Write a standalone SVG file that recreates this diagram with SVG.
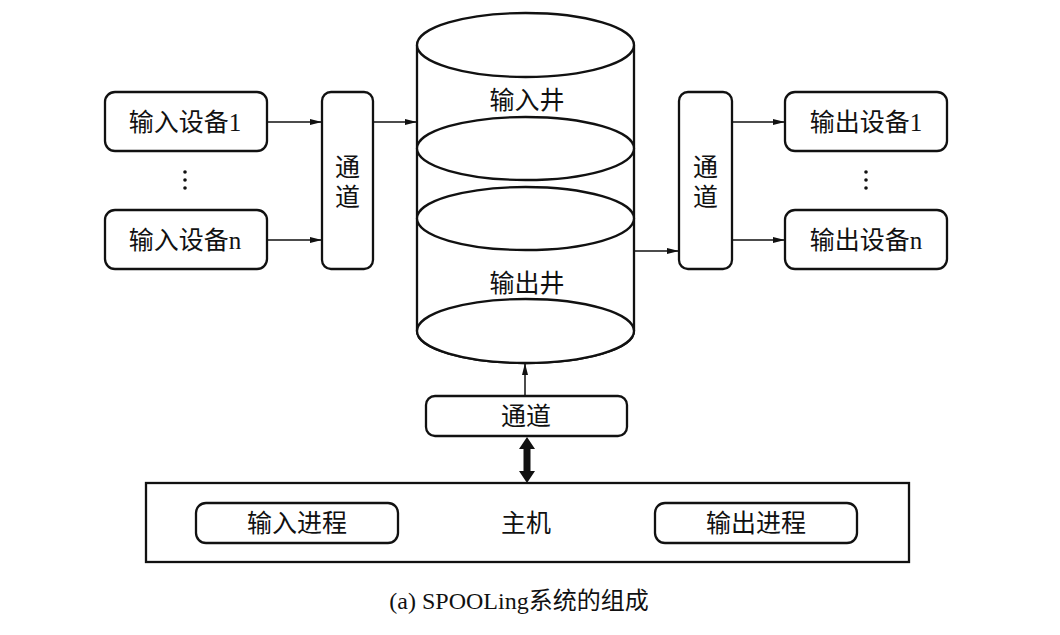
<svg xmlns="http://www.w3.org/2000/svg" width="1060" height="635" viewBox="0 0 1060 635">
<defs>
<style>
.box{fill:#fff;stroke:#111;stroke-width:2.3}
.ln{fill:none;stroke:#111;stroke-width:1.5}
.t{font-family:"Liberation Serif","Noto Sans CJK SC",serif;font-size:25px;fill:#111;text-anchor:middle;dominant-baseline:central}
.cap{font-family:"Liberation Serif","Noto Sans CJK SC",serif;font-size:24px;fill:#111;text-anchor:middle;dominant-baseline:central}
</style>
<marker id="ah" viewBox="0 0 12 8" refX="12" refY="4" markerWidth="12" markerHeight="8" markerUnits="userSpaceOnUse" orient="auto">
<path d="M0,1 L12,4 L0,7 Z" fill="#111"/>
</marker>
</defs>
<rect width="1060" height="635" fill="#fff"/>

<g id="cylinder">
<path class="box" d="M417,45 L417,331 A108.5,32 0 0 0 634,331 L634,45"/>
<ellipse class="box" cx="525.5" cy="45" rx="108.5" ry="32"/>
<ellipse class="box" cx="525.5" cy="148.5" rx="108.5" ry="31.5"/>
<ellipse class="box" cx="525.5" cy="218.5" rx="108.5" ry="31.5"/>
<ellipse class="box" cx="525.5" cy="331" rx="108.5" ry="32"/>
<text class="t" x="527" y="100">输入井</text>
<text class="t" x="527" y="283">输出井</text>
</g>

<g id="in-dev-1"><rect class="box" x="105" y="92" width="162" height="59" rx="10"/><text class="t" x="185" y="122">输入设备1</text></g>
<g id="in-dev-n"><rect class="box" x="105" y="210" width="162" height="59" rx="10"/><text class="t" x="185" y="240">输入设备n</text></g>
<g id="in-dots"><circle cx="185" cy="172" r="1.8" fill="#111"/><circle cx="185" cy="180" r="1.8" fill="#111"/><circle cx="185" cy="188" r="1.8" fill="#111"/></g>
<g id="in-channel"><rect class="box" x="322" y="92" width="51" height="177" rx="9"/><text class="t" x="347.5" y="167">通</text><text class="t" x="347.5" y="197">道</text></g>

<g id="out-channel"><rect class="box" x="679" y="92" width="53" height="177" rx="9"/><text class="t" x="705.5" y="167">通</text><text class="t" x="705.5" y="197">道</text></g>
<g id="out-dev-1"><rect class="box" x="785" y="92" width="162" height="59" rx="10"/><text class="t" x="866" y="122">输出设备1</text></g>
<g id="out-dev-n"><rect class="box" x="785" y="210" width="162" height="59" rx="10"/><text class="t" x="866" y="240">输出设备n</text></g>
<g id="out-dots"><circle cx="866" cy="172" r="1.8" fill="#111"/><circle cx="866" cy="180" r="1.8" fill="#111"/><circle cx="866" cy="188" r="1.8" fill="#111"/></g>

<g id="bottom-channel"><rect class="box" x="426" y="396" width="201" height="40" rx="9"/><text class="t" x="526" y="416">通道</text></g>

<g id="host">
<rect class="box" x="146" y="483" width="763" height="79"/>
<text class="t" x="526" y="523">主机</text>
</g>
<g id="in-proc"><rect class="box" x="196" y="503" width="202" height="40" rx="10"/><text class="t" x="297" y="523">输入进程</text></g>
<g id="out-proc"><rect class="box" x="655" y="503" width="202" height="40" rx="10"/><text class="t" x="756" y="523">输出进程</text></g>

<g id="connectors">
<line class="ln" x1="267" y1="122" x2="322" y2="122" marker-end="url(#ah)"/>
<line class="ln" x1="267" y1="240" x2="322" y2="240" marker-end="url(#ah)"/>
<line class="ln" x1="373" y1="122" x2="417" y2="122" marker-end="url(#ah)"/>
<line class="ln" x1="634" y1="251" x2="679" y2="251" marker-end="url(#ah)"/>
<line class="ln" x1="732" y1="122" x2="785" y2="122" marker-end="url(#ah)"/>
<line class="ln" x1="732" y1="240" x2="785" y2="240" marker-end="url(#ah)"/>
<line class="ln" x1="525" y1="396" x2="525" y2="363" marker-end="url(#ah)"/>
<path d="M527,437 L535,449 L530.5,449 L530.5,471 L535,471 L527,483 L519,471 L523.5,471 L523.5,449 L519,449 Z" fill="#111"/>
</g>

<text class="cap" x="519" y="601">(a) SPOOLing系统的组成</text>
</svg>
